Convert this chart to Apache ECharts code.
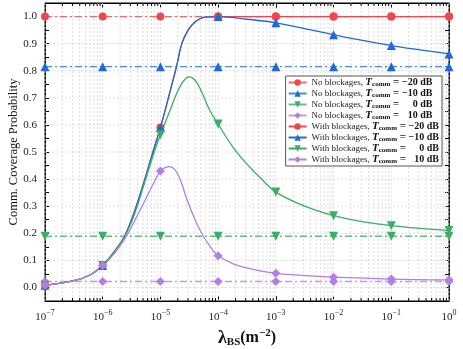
<!DOCTYPE html>
<html><head><meta charset="utf-8">
<script src="https://cdn.jsdelivr.net/npm/echarts@6/dist/echarts.min.js"></script>
<style>html,body{margin:0;padding:0;background:#fff}#c{width:463px;height:349px}</style>
</head><body><div id="c"></div>
<script>
// ---------- data ----------
const decadeExps = [-7, -6, -5, -4, -3, -2, -1, 0];
const yTickLabels = ['0.0','0.1','0.2','0.3','0.4','0.5','0.6','0.7','0.8','0.9','1.0'];

// No blockages (flat, dash-dot)
const noBlkM20 = [1.0, 1.0, 1.0, 1.0, 1.0, 1.0, 1.0, 1.0];
const noBlkM10 = [0.815, 0.815, 0.815, 0.815, 0.815, 0.815, 0.815, 0.815];
const noBlk0   = [0.189, 0.189, 0.189, 0.189, 0.189, 0.189, 0.189, 0.189];
const noBlk10  = [0.022, 0.022, 0.022, 0.022, 0.022, 0.022, 0.022, 0.022];

// With blockages (exponent of lambda, coverage)
const wM20Exp = [-7, -6.5, -6.22, -6, -5.8, -5.62, -5.45, -5.27, -5.13, -5, -4.85, -4.72, -4.63, -4.52, -4.4, -4.23, -4, -3.5, -3, -2, -1, 0];
const wM20Val = [0.008, 0.025, 0.046, 0.081, 0.132, 0.19, 0.28, 0.40, 0.50, 0.59, 0.71, 0.816, 0.90, 0.95, 0.98, 0.998, 1.0, 1.0, 1.0, 1.0, 1.0, 1.0];

const wM10Exp = [-7, -6.5, -6.22, -6, -5.8, -5.62, -5.45, -5.27, -5.13, -5, -4.85, -4.72, -4.63, -4.52, -4.4, -4.23, -4, -3.5, -3, -2.5, -2, -1.5, -1, -0.5, 0];
const wM10Val = [0.008, 0.025, 0.046, 0.081, 0.132, 0.19, 0.28, 0.40, 0.50, 0.59, 0.71, 0.816, 0.90, 0.95, 0.98, 0.998, 1.0, 0.99, 0.977, 0.955, 0.933, 0.912, 0.893, 0.877, 0.862];

const w0Exp = [-7, -6.5, -6.22, -6, -5.8, -5.62, -5.45, -5.27, -5.13, -5, -4.83, -4.7, -4.6, -4.5, -4.4, -4.3, -4.15, -4, -3.75, -3.5, -3.25, -3, -2.5, -2, -1.5, -1, -0.5, 0];
const w0Val = [0.008, 0.025, 0.046, 0.081, 0.13, 0.186, 0.27, 0.39, 0.485, 0.564, 0.656, 0.725, 0.762, 0.777, 0.765, 0.728, 0.656, 0.603, 0.52, 0.455, 0.40, 0.352, 0.30, 0.265, 0.243, 0.228, 0.218, 0.21];

const w10Exp = [-7, -6.5, -6.22, -6, -5.8, -5.6, -5.45, -5.27, -5.13, -5, -4.92, -4.84, -4.75, -4.65, -4.55, -4.4, -4.26, -4.1, -4, -3.75, -3.5, -3.25, -3, -2.5, -2, -1, 0];
const w10Val = [0.008, 0.025, 0.046, 0.081, 0.125, 0.185, 0.245, 0.32, 0.38, 0.43, 0.442, 0.446, 0.435, 0.395, 0.33, 0.25, 0.19, 0.14, 0.117, 0.088, 0.072, 0.06, 0.052, 0.044, 0.038, 0.031, 0.028];

const thresholds = ['\u221220 dB', '\u221210 dB', '0 dB', '10 dB'];
const colors = ['#f0474e', '#1f6ad8', '#3cad66', '#b47fe3'];
const symbols = ['circle', 'triangle', 'triangle', 'diamond'];
const symbolRot = [0, 0, 180, 0];
const symbolSizes = [8, 9, 9, 9];

// ---------- helpers ----------
const SERIF = '"Liberation Serif", "DejaVu Serif", serif';
function toX(e) { return Math.pow(10, e); }
function flatData(vals) { return decadeExps.map((e, i) => [toX(e), vals[i]]); }
function curveData(exps, vals) {
  return exps.map((e, i) => {
    const item = { value: [toX(e), vals[i]] };
    if (!Number.isInteger(e)) item.symbol = 'none';
    return item;
  });
}

// minor/major vertical grid values
const vGrid = [];
for (let e = -7; e <= 0; e++) {
  for (let k = 1; k <= 9; k++) {
    const v = k * Math.pow(10, e);
    if (v > 1.0000001) break;
    vGrid.push([v, k === 1 ? 1 : 0]);
  }
}
const hGrid = yTickLabels.map(s => [1e-7, parseFloat(s)]);

const names = [];
const series = [];
const noBlk = [noBlkM20, noBlkM10, noBlk0, noBlk10];
const wExp = [wM20Exp, wM10Exp, w0Exp, w10Exp];
const wVal = [wM20Val, wM10Val, w0Val, w10Val];

for (let i = 0; i < 4; i++) {
  const n = 'No blockages|' + i;
  names.push(n);
  series.push({
    name: n, type: 'line', data: flatData(noBlk[i]),
    symbol: symbols[i], symbolRotate: symbolRot[i], symbolSize: symbolSizes[i],
    itemStyle: { color: colors[i] },
    lineStyle: { color: colors[i], width: 1.3, type: [7, 3, 2, 3], opacity: 0.8 },
    z: 3, animation: false
  });
}
for (let i = 0; i < 4; i++) {
  const n = 'With blockages|' + i;
  names.push(n);
  series.push({
    name: n, type: 'line', data: curveData(wExp[i], wVal[i]),
    smooth: 0.4,
    symbol: symbols[i], symbolRotate: symbolRot[i], symbolSize: symbolSizes[i],
    itemStyle: { color: colors[i] },
    lineStyle: { color: colors[i], width: 1.3 },
    z: 4, animation: false
  });
}

// grid lines & minor ticks via custom series
series.push({
  type: 'custom', name: '_vgrid', data: vGrid, z: 1, silent: true, animation: false,
  encode: { x: 0, y: 1 },
  renderItem: function (params, api) {
    const x = api.value(0);
    const major = api.value(1) === 1;
    const top = api.coord([x, 1.05]);
    const bot = api.coord([x, -0.05]);
    const children = [{
      type: 'line', shape: { x1: top[0], y1: top[1], x2: bot[0], y2: bot[1] },
      style: { stroke: '#d6d6d6', lineWidth: 0.8, lineDash: [2, 2] }
    }];
    if (!major) {
      children.push({ type: 'line', shape: { x1: bot[0], y1: bot[1], x2: bot[0], y2: bot[1] - 3 }, style: { stroke: '#000', lineWidth: 1 } });
      children.push({ type: 'line', shape: { x1: top[0], y1: top[1], x2: top[0], y2: top[1] + 3 }, style: { stroke: '#000', lineWidth: 1 } });
    }
    return { type: 'group', children: children };
  }
});
series.push({
  type: 'custom', name: '_hgrid', data: hGrid, z: 1, silent: true, animation: false,
  encode: { x: 0, y: 1 },
  renderItem: function (params, api) {
    const y = api.value(1);
    const l = api.coord([1e-7, y]);
    const r = api.coord([1, y]);
    return { type: 'line', shape: { x1: l[0], y1: l[1], x2: r[0], y2: r[1] },
      style: { stroke: '#d6d6d6', lineWidth: 0.8, lineDash: [2, 2] } };
  }
});

function xLabel(v) {
  const e = Math.round(Math.log10(v));
  return '{b|10}{s|' + (e < 0 ? '\u2212' + (-e) : String(e)) + '}';
}
function yLabel(v) {
  const r = Math.round(v * 100);
  if (r < 0 || r > 100 || r % 10 !== 0) return '';
  return (r / 100).toFixed(1);
}

const xCommon = {
  type: 'log', logBase: 10, min: 1e-7, max: 1, interval: 1,
  axisLine: { show: true, onZero: false, lineStyle: { color: '#000', width: 1 } },
  axisTick: { show: true, inside: true, length: 5, lineStyle: { color: '#000' } },
  splitLine: { show: false }, minorTick: { show: false }
};
const yCommon = {
  type: 'value', min: -0.05, max: 1.05, interval: 0.05,
  axisLine: { show: true, onZero: false, lineStyle: { color: '#000', width: 1 } },
  axisTick: { show: true, inside: true, length: 4, lineStyle: { color: '#000' } },
  splitLine: { show: false }
};

const option = {
  backgroundColor: '#fff',
  animation: false,
  grid: { left: 45, right: 14, top: 3, bottom: 48, show: true, borderColor: '#000', borderWidth: 1,
    backgroundColor: 'transparent', containLabel: false, outerBoundsMode: 'none' },
  xAxis: [
    Object.assign({}, xCommon, {
      position: 'bottom',
      axisLabel: {
        show: true, margin: 8, formatter: xLabel,
        rich: {
          b: { fontFamily: SERIF, fontSize: 11, color: '#222' },
          s: { fontFamily: SERIF, fontSize: 8, color: '#222', verticalAlign: 'top', padding: [0, 0, 8, 0] }
        }
      },
      name: '{l|\u03bb}{sub|BS}{p|(m}{sup|\u22122}{p|)}',
      nameLocation: 'middle', nameGap: 27, nameMoveOverlap: false,
      nameTextStyle: {
        rich: {
          l: { fontFamily: SERIF, fontSize: 18, fontWeight: 'bold', color: '#111' },
          sub: { fontFamily: SERIF, fontSize: 11, fontWeight: 'bold', color: '#111', verticalAlign: 'bottom', padding: [7, 0, 0, 0] },
          p: { fontFamily: SERIF, fontSize: 16, fontWeight: 'bold', color: '#111' },
          sup: { fontFamily: SERIF, fontSize: 11, fontWeight: 'bold', color: '#111', verticalAlign: 'top', padding: [0, 0, 9, 0] }
        }
      }
    }),
    Object.assign({}, xCommon, { position: 'top', axisLabel: { show: false } })
  ],
  yAxis: [
    Object.assign({}, yCommon, {
      position: 'left',
      axisLabel: { show: true, margin: 8, formatter: yLabel, fontFamily: SERIF, fontSize: 11, color: '#222' },
      name: 'Comm. Coverage Probability', nameLocation: 'middle', nameGap: 25, nameMoveOverlap: false,
      nameTextStyle: { fontFamily: SERIF, fontSize: 12.5, color: '#111' }
    }),
    Object.assign({}, yCommon, { position: 'right', axisLabel: { show: false } })
  ],
  legend: {
    data: names, orient: 'vertical', align: 'left',
    right: 21, top: 76,
    backgroundColor: '#fff', borderColor: '#555', borderWidth: 1, borderRadius: 0,
    padding: [1, 3, 1, 2], itemGap: 0, itemWidth: 18, itemHeight: 8,
    lineStyle: { type: 'solid' },
    formatter: function (n) {
      const parts = n.split('|');
      const i = +parts[1];
      return '{a|' + parts[0] + ', }{t|T}{c|comm}{e| =}{v|' + thresholds[i] + '}';
    },
    textStyle: {
      lineHeight: 10,
      rich: {
        a: { fontFamily: SERIF, fontSize: 9, color: '#222', lineHeight: 10 },
        t: { fontFamily: SERIF, fontSize: 11, fontStyle: 'italic', fontWeight: 'bold', color: '#111', lineHeight: 10 },
        c: { fontFamily: SERIF, fontSize: 7, fontWeight: 'bold', color: '#111', lineHeight: 6, verticalAlign: 'bottom' },
        e: { fontFamily: SERIF, fontSize: 11, fontWeight: 'bold', color: '#111', lineHeight: 10 },
        v: { fontFamily: SERIF, fontSize: 10, fontWeight: 'bold', color: '#111', width: 33, align: 'right', lineHeight: 10 }
      }
    }
  },
  series: series
};

const chart = echarts.init(document.getElementById('c'), null, { renderer: 'canvas' });
chart.setOption(option);
</script>
</body></html>
